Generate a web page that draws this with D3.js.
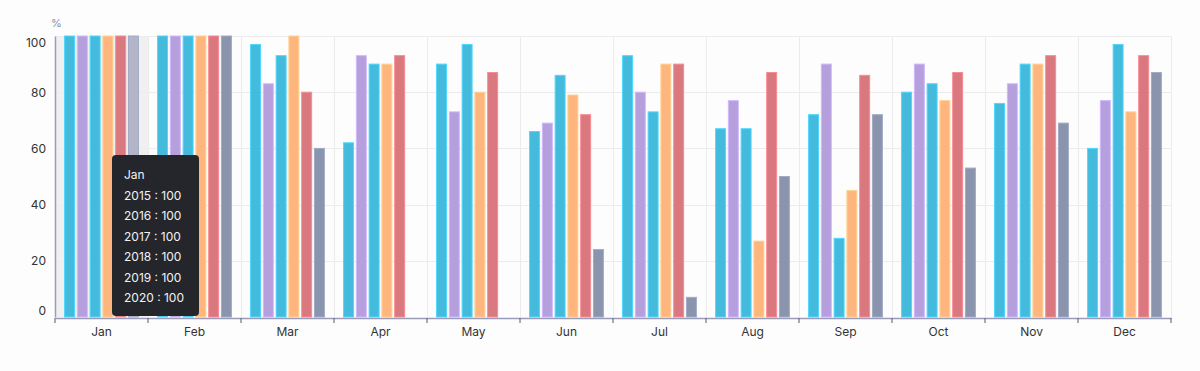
<!DOCTYPE html>
<html>
<head>
<meta charset="utf-8">
<script src="https://cdn.jsdelivr.net/npm/d3@7"></script>
<style>
  html, body { margin: 0; padding: 0; background: #fdfdfd; }
  #chart { width: 1200px; height: 371px; }
  text { font-family: Inter, Roboto, "Noto Sans", sans-serif; }
</style>
</head>
<body>
<div id="chart"></div>
<script>
const months = ['Jan', 'Feb', 'Mar', 'Apr', 'May', 'Jun', 'Jul', 'Aug', 'Sep', 'Oct', 'Nov', 'Dec'];
const years = ['2015', '2016', '2017', '2018', '2019', '2020'];
const yTicks = [0, 20, 40, 60, 80, 100];

const v2015 = [100, 100, 97, 62, 90, 66, 93, 67, 72, 80, 76, 60];
const v2016 = [100, 100, 83, 93, 73, 69, 80, 77, 90, 90, 83, 77];
const v2017 = [100, 100, 93, 90, 97, 86, 73, 67, 28, 83, 90, 97];
const v2018 = [100, 100, 100, 90, 80, 79, 90, 27, 45, 77, 90, 73];
const v2019 = [100, 100, 80, 93, 87, 72, 90, 87, 86, 87, 93, 93];
const v2020 = [100, 100, 60, 0, 0, 24, 7, 50, 72, 53, 69, 87];

const seriesValues = [v2015, v2016, v2017, v2018, v2019, v2020];
const colors = ['#44bbdd', '#b59fdc', '#44bbdd', '#ffb67e', '#d9787f', '#8b94ad'];
const hoverMonth = 'Jan';

const width = 1200, height = 371;
const margin = { top: 36, right: 29, bottom: 54, left: 55 };

const x0 = d3.scaleBand()
    .domain(months)
    .range([margin.left, width - margin.right]);

const x1 = d3.scaleBand()
    .domain(years)
    .range([0, x0.bandwidth()])
    .paddingInner(0.22)
    .paddingOuter(0.75);

const y = d3.scaleLinear()
    .domain([0, 100])
    .range([height - margin.bottom, margin.top]);

const svg = d3.select('#chart').append('svg')
    .attr('width', width)
    .attr('height', height)
    .attr('viewBox', [0, 0, width, height]);

// hover band behind Jan
svg.append('rect')
    .attr('x', x0(hoverMonth))
    .attr('y', y(100))
    .attr('width', x0.bandwidth())
    .attr('height', y(0) - y(100))
    .attr('fill', '#f0f0f0');

// grid
const grid = svg.append('g').attr('stroke', '#ececec').attr('stroke-width', 1);
grid.selectAll('line.h')
    .data(yTicks.filter(d => d > 0))
    .join('line')
    .attr('class', 'h')
    .attr('x1', margin.left)
    .attr('x2', width - margin.right)
    .attr('y1', d => Math.round(y(d)) + 0.5)
    .attr('y2', d => Math.round(y(d)) + 0.5);
grid.selectAll('line.v')
    .data(months.slice(1).map(m => x0(m)).concat([x0.range()[1]]))
    .join('line')
    .attr('class', 'v')
    .attr('x1', d => Math.round(d) + 0.5)
    .attr('x2', d => Math.round(d) + 0.5)
    .attr('y1', y(100))
    .attr('y2', y(0));

// bars
const groups = svg.append('g')
    .selectAll('g')
    .data(months)
    .join('g')
    .attr('transform', m => `translate(${x0(m)},0)`);

groups.selectAll('rect')
    .data((m, i) => years.map((yr, s) => ({ month: m, year: yr, s, value: seriesValues[s][i] })))
    .join('rect')
    .filter(d => d.value > 0)
    .attr('x', d => x1(d.year))
    .attr('y', d => y(d.value))
    .attr('width', x1.bandwidth())
    .attr('height', d => y(0) - y(d.value))
    .attr('fill', d => (d.month === hoverMonth && d.s === 5) ? '#b5b5c8' : colors[d.s])
    .attr('stroke', d => d3.color(colors[d.s]).brighter(0.4))
    .attr('stroke-width', 1);

// y axis, first and last labels pulled inside the plot
const yAxis = svg.append('g')
    .attr('transform', `translate(${margin.left},0)`)
    .call(d3.axisLeft(y).tickValues(yTicks).tickSize(0).tickPadding(9));
yAxis.select('.domain').attr('stroke', '#9a9cb8').attr('stroke-width', 1.5);
yAxis.selectAll('text')
    .attr('font-size', 12)
    .attr('fill', '#333')
    .attr('dy', d => d === 100 ? '0.85em' : d === 0 ? '-0.2em' : '0.32em');

svg.append('text')
    .attr('x', margin.left - 4)
    .attr('y', 27)
    .attr('font-size', 11)
    .attr('fill', '#8a8cab')
    .text('%');

// x axis
const xAxis = svg.append('g')
    .attr('transform', `translate(0,${y(0) + 1})`)
    .call(d3.axisBottom(x0).tickSize(0).tickPadding(9));
xAxis.select('.domain').attr('stroke', '#9a9cb8').attr('stroke-width', 1.5);
xAxis.selectAll('text').attr('font-size', 12).attr('fill', '#333');
xAxis.selectAll('line.sep')
    .data(months.map(m => x0(m)).concat([x0.range()[1]]))
    .join('line')
    .attr('class', 'sep')
    .attr('x1', d => d)
    .attr('x2', d => d)
    .attr('y1', 0)
    .attr('y2', 5)
    .attr('stroke', '#555a70')
    .attr('stroke-width', 1);

// tooltip
const idx = months.indexOf(hoverMonth);
const tipLines = [hoverMonth].concat(years.map((yr, s) => `${yr} : ${seriesValues[s][idx]}`));
const tip = svg.append('g').attr('transform', 'translate(112,155)');
tip.append('rect')
    .attr('width', 87)
    .attr('height', 161)
    .attr('rx', 4)
    .attr('fill', '#25262b');
tip.selectAll('text')
    .data(tipLines)
    .join('text')
    .attr('x', 12)
    .attr('y', (d, i) => 24 + i * 20.5)
    .attr('font-size', 12)
    .attr('fill', '#f2f2f2')
    .text(d => d);
</script>
</body>
</html>
